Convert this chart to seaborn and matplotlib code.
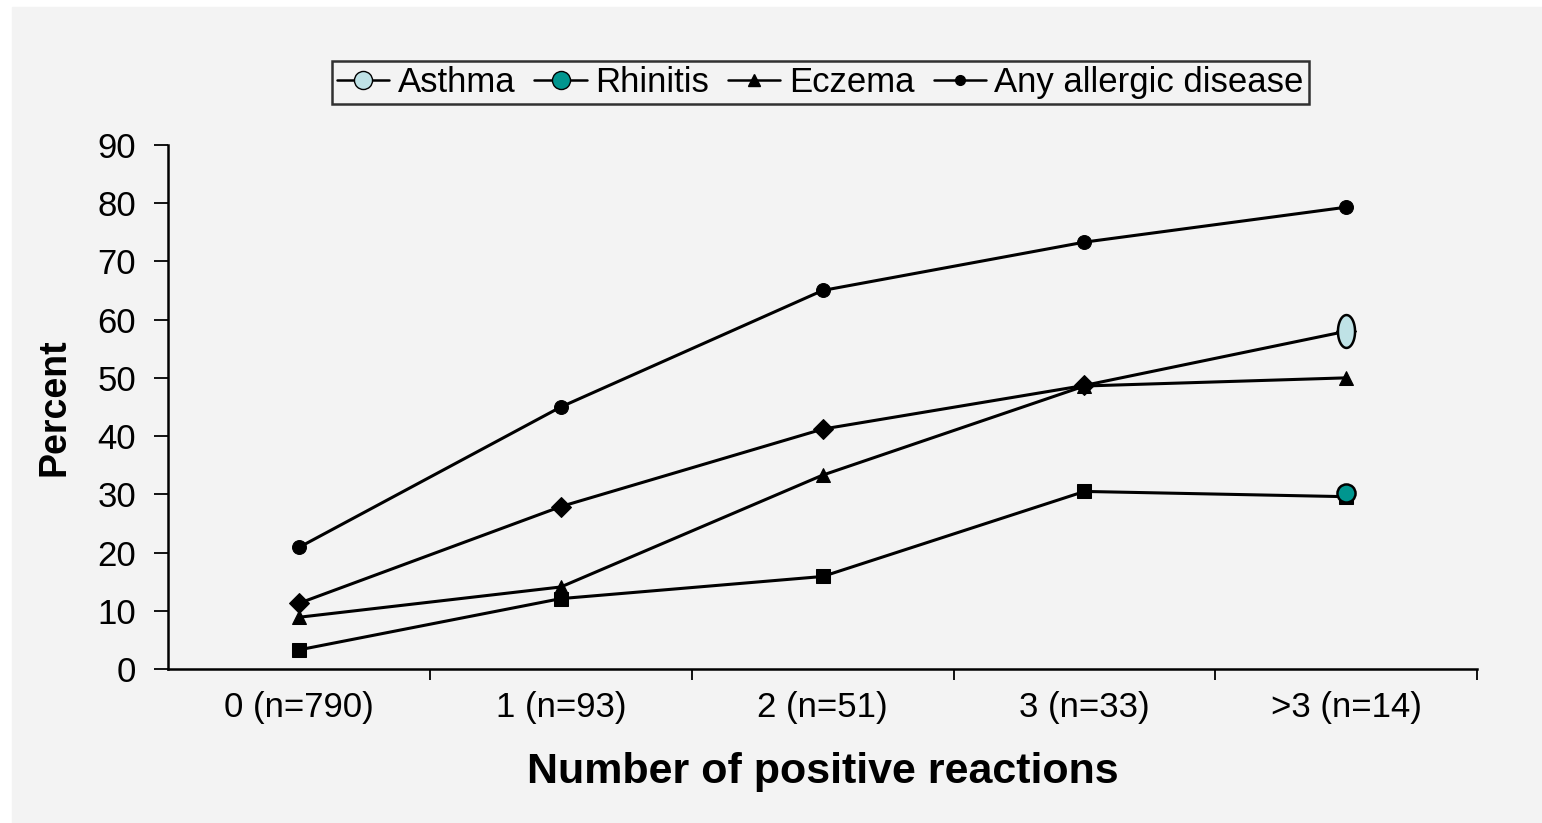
import numpy as np
import pandas as pd
import matplotlib
matplotlib.use("Agg")
import matplotlib.pyplot as plt
from matplotlib.path import Path
from matplotlib.lines import Line2D
from matplotlib.patches import Rectangle
import seaborn as sns

# values (percent)
categories = ["0 (n=790)", "1 (n=93)", "2 (n=51)", "3 (n=33)", ">3 (n=14)"]
series_names = ["Asthma", "Rhinitis", "Eczema", "Any allergic disease"]
asthma = [11.3, 27.9, 41.2, 48.7, 58.0]
rhinitis = [3.3, 12.1, 15.9, 30.5, 29.6]
eczema = [8.9, 14.1, 33.3, 48.6, 50.0]
any_allergic = [20.9, 45.0, 65.0, 73.3, 79.3]
y_ticks = list(range(0, 100, 10))

df = pd.DataFrame({
    "pos": list(range(len(categories))) * 4,
    "value": asthma + rhinitis + eczema + any_allergic,
    "series": np.repeat(series_names, len(categories)),
})

sns.set_style("ticks")
plt.rcParams["font.family"] = ["Liberation Sans", "DejaVu Sans"]
plt.rcParams["text.color"] = "black"
plt.rcParams["axes.labelcolor"] = "black"
plt.rcParams["xtick.color"] = "black"
plt.rcParams["ytick.color"] = "black"
plt.rcParams["axes.edgecolor"] = "black"

fig = plt.figure(figsize=(15.42, 8.23), dpi=100, facecolor="white")
# scanned page tone
fig.patches.append(Rectangle((12 / 1542, 0), 1 - 12 / 1542, 1 - 7 / 823,
                             transform=fig.transFigure, color="#f3f3f3", zorder=-10))
ax = fig.add_axes([0.109, 0.187, 0.849, 0.637])
ax.set_facecolor("none")

marker_map = {"Asthma": "D", "Rhinitis": "s", "Eczema": "^", "Any allergic disease": "o"}
sns.lineplot(data=df, x="pos", y="value", hue="series", style="series",
             markers=marker_map, dashes=False, palette=["black"] * 4,
             markersize=10, linewidth=2.2, markeredgecolor="black",
             legend=False, ax=ax)

# highlighted end points
theta = np.linspace(0, 2 * np.pi, 80)
ellipse = Path(np.column_stack([0.52 * np.cos(theta), np.sin(theta)]), closed=True)
last = len(categories) - 1
ax.scatter([last], [asthma[-1]], marker=ellipse, s=560, facecolor="#bfe2e6",
           edgecolor="black", linewidth=1.8, zorder=5)
ax.scatter([last], [rhinitis[-1] + 0.6], marker="o", s=170, facecolor="#00968f",
           edgecolor="black", linewidth=1.8, zorder=5)

ax.set_xlim(-0.5, len(categories) - 0.5)
ax.set_ylim(0, 90)
ax.set_yticks(y_ticks)
ax.set_xticks(range(len(categories)))
ax.set_xticklabels(categories)
ax.set_xticks(np.arange(0.5, len(categories), 1.0), minor=True)
ax.tick_params(axis="x", which="major", length=0, pad=16, labelsize=25)
ax.tick_params(axis="x", which="minor", length=8, width=1.3, direction="out")
ax.tick_params(axis="y", length=10, width=1.3, pad=13, labelsize=25)
for s in ["top", "right"]:
    ax.spines[s].set_visible(False)
for s in ["left", "bottom"]:
    ax.spines[s].set_linewidth(1.8)

ax.set_ylabel("Percent", fontsize=27, fontweight="bold", labelpad=18)
ax.set_xlabel("Number of positive reactions", fontsize=31, fontweight="bold", labelpad=20)

handles = [
    Line2D([], [], color="black", lw=1.8, marker="o", ms=13, mfc="#bfe2e6", mec="black"),
    Line2D([], [], color="black", lw=1.8, marker="o", ms=13, mfc="#00968f", mec="black"),
    Line2D([], [], color="black", lw=1.8, marker="^", ms=8, mfc="black", mec="black"),
    Line2D([], [], color="black", lw=1.8, marker="o", ms=7, mfc="black", mec="black"),
]
leg = ax.legend(handles, series_names, loc="center", bbox_to_anchor=(0.532, 0.900),
                bbox_transform=fig.transFigure, ncol=4, fontsize=25, frameon=True,
                fancybox=False, edgecolor="black", handlelength=1.5, handletextpad=0.25,
                columnspacing=0.55, borderpad=0.15, borderaxespad=0)
leg.get_frame().set_linewidth(1.8)
leg.get_frame().set_facecolor("none")

fig.savefig("out.png", dpi=100, facecolor=fig.get_facecolor())
